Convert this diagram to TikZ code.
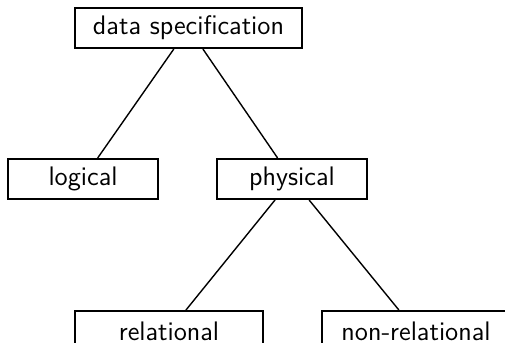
\documentclass[tikz,border=0pt]{standalone}
\begin{document}
\begin{tikzpicture}[x=0.5pt,y=-0.5pt,
  box/.style={draw=black,line width=1pt,inner sep=0pt,minimum height=20pt,
    font=\fontsize{13.4}{16}\selectfont\sffamily},
  link/.style={draw=black,line width=0.7pt}]
\clip (0,0) rectangle (505,343);
\fill[white] (0,0) rectangle (505,343);
\node[box,minimum width=113.5pt] (ds) at (188.5,28) {data specification};
\node[box,minimum width=75pt] (log) at (83,179) {logical};
\node[box,minimum width=75pt] (phy) at (292,179) {physical};
\node[box,minimum width=94pt] (rel) at (169,331) {relational};
\node[box,minimum width=94pt] (non) at (416,331) {non-relational};
\draw[link] (ds) -- (log);
\draw[link] (ds) -- (phy);
\draw[link] (phy) -- (rel);
\draw[link] (phy) -- (non);
\end{tikzpicture}
\end{document}
